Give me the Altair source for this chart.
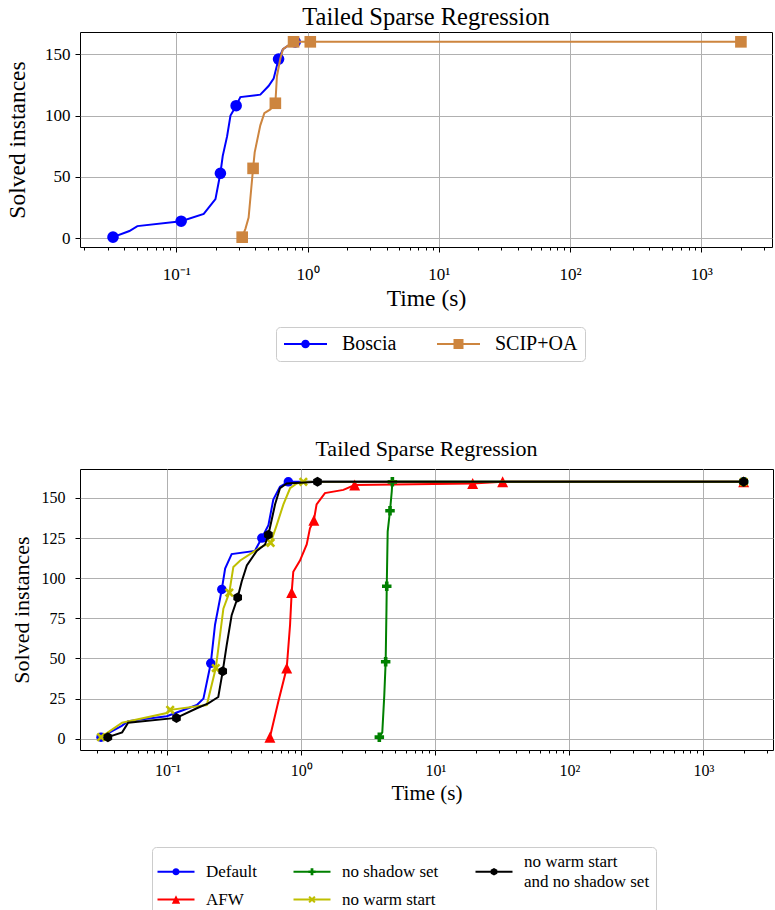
import altair as alt
import pandas as pd

FONT = "Liberation Serif"
TITLE = "Tailed Sparse Regression"
X_TITLE = "Time (s)"
Y_TITLE = "Solved instances"

# ---------------- top panel data ----------------
TOP_SERIES = ["Boscia", "SCIP+OA"]
TOP_COLORS = ["#0000ff", "#cd853f"]
TOP_MARKERS = ["circle", "square"]

BOSCIA_T = [0.033, 0.044, 0.0506, 0.109, 0.162, 0.199, 0.217, 0.226, 0.244, 0.259,
            0.286, 0.308, 0.437, 0.505, 0.552, 0.602, 0.65, 0.739, 0.806]
BOSCIA_N = [1, 6, 10, 14, 20, 32, 53, 67, 83, 100,
            108, 115, 117, 124, 130, 146, 154, 158, 160]
BOSCIA_MT = [0.033, 0.109, 0.217, 0.286, 0.602, 0.806]
BOSCIA_MN = [1, 14, 53, 108, 146, 160]

SCIP_T = [0.318, 0.337, 0.356, 0.385, 0.396, 0.437, 0.469, 0.521, 0.569, 0.585,
          0.62, 0.65, 0.783, 1.05, 2000]
SCIP_N = [1, 8, 17, 57, 70, 92, 102, 105, 110, 132, 146, 154, 160, 160, 160]
SCIP_MT = [0.318, 0.385, 0.569, 0.783, 1.05, 2000]
SCIP_MN = [1, 57, 110, 160, 160, 160]

# ---------------- bottom panel data ----------------
BOT_SERIES = ["Default", "AFW", "no shadow set", "no warm start",
              "no warm start and no shadow set"]
BOT_COLORS = ["#0000ff", "#ff0000", "#008000", "#bfbf00", "#000000"]
BOT_MARKERS = ["circle", "triangle", "plus", "x", "hexagon"]

DEF_T = [0.032, 0.0457, 0.051, 0.099, 0.166, 0.186, 0.211, 0.227, 0.255, 0.27,
         0.302, 0.45, 0.507, 0.568, 0.618, 0.693, 0.80, 2000]
DEF_N = [1, 8, 11, 14, 21, 25, 47, 71, 93, 106, 115, 117, 125, 133, 149, 157, 160, 160]
DEF_MT = [0.032, 0.211, 0.255, 0.507, 0.80, 2000]
DEF_MN = [1, 47, 93, 125, 160, 160]

AFW_T = [0.583, 0.673, 0.778, 0.824, 0.847, 0.871, 0.977, 1.097, 1.16, 1.24,
         1.30, 1.50, 2.06, 2.5, 19.0, 31.8, 2000]
AFW_N = [1, 23, 44, 71, 91, 104, 111, 121, 131, 136, 146, 153, 155, 158, 159, 160, 160]
AFW_MT = [0.583, 0.778, 0.847, 1.24, 2.5, 19.0, 31.8, 2000]
AFW_MN = [1, 44, 91, 136, 158, 159, 160, 160]

NSS_T = [3.82, 4.02, 4.16, 4.26, 4.32, 4.34, 4.41, 4.59, 4.73, 4.78, 2000]
NSS_N = [1, 4, 27, 48, 81, 95, 129, 142, 154, 160, 160]
NSS_MT = [3.82, 4.26, 4.34, 4.59, 4.78, 2000]
NSS_MN = [1, 48, 95, 142, 160, 160]

NWS_T = [0.032, 0.046, 0.099, 0.105, 0.197, 0.23, 0.24, 0.262, 0.29, 0.311,
         0.35, 0.492, 0.59, 0.655, 0.735, 0.824, 0.925, 1.035, 2000]
NWS_N = [1, 10, 16, 18, 21, 44, 56, 81, 91, 107, 111, 119, 122, 133, 146, 156, 159, 160, 160]
NWS_MT = [0.032, 0.105, 0.23, 0.29, 0.59, 1.035, 2000]
NWS_MN = [1, 18, 44, 91, 122, 160, 160]

NWSNSS_T = [0.036, 0.046, 0.051, 0.117, 0.166, 0.202, 0.24, 0.259, 0.277, 0.302,
            0.335, 0.359, 0.392, 0.465, 0.536, 0.568, 0.637, 0.693, 0.778, 1.32, 2000]
NWSNSS_N = [1, 4, 10, 13, 19, 22, 26, 42, 58, 77, 88, 98, 108, 117, 121, 127, 146, 156, 159, 160, 160]
NWSNSS_MT = [0.036, 0.117, 0.259, 0.335, 0.568, 1.32, 2000]
NWSNSS_MN = [1, 13, 42, 88, 127, 160, 160]

# ---------------- axes ----------------
TOP_X_DOMAIN = [0.0185, 3450]
BOT_X_DOMAIN = [0.0223, 3311]
Y_DOMAIN = [-7, 168]
X_MAJOR = [0.1, 1, 10, 100, 1000]
X_MAJOR_LABELS = ["10\u207b\u00b9", "10\u2070", "10\u00b9", "10\u00b2", "10\u00b3"]
TOP_Y_TICKS = [0, 50, 100, 150]
BOT_Y_TICKS = [0, 25, 50, 75, 100, 125, 150]


def minor_ticks(domain):
    return [m * 10.0 ** k for k in range(-2, 4) for m in range(2, 10)
            if domain[0] <= m * 10.0 ** k <= domain[1]]


# ---------------- marker geometry ----------------
VERTS = {
    "square": [(-1, -1), (1, -1), (1, 1), (-1, 1)],
    "triangle": [(0, -1), (1, 1), (-1, 1)],
    "plus": [(-0.38, -1), (0.38, -1), (0.38, -0.38), (1, -0.38), (1, 0.38), (0.38, 0.38),
             (0.38, 1), (-0.38, 1), (-0.38, 0.38), (-1, 0.38), (-1, -0.38), (-0.38, -0.38)],
    "x": [(-1, -0.6), (-0.6, -1), (0, -0.4), (0.6, -1), (1, -0.6), (0.4, 0),
          (1, 0.6), (0.6, 1), (0, 0.4), (-0.6, 1), (-1, 0.6), (-0.4, 0)],
    "hexagon": [(0, -1), (0.866, -0.5), (0.866, 0.5), (0, 1), (-0.866, 0.5), (-0.866, -0.5)],
}

SYM_SHIFT = -9  # legend symbol drawn starting left of its nominal anchor


def marker_path(kind, r=1.0, cx=0.0, cy=0.0):
    if kind == "circle":
        return (f"M{cx + r:.3f},{cy:.3f}A{r:.3f},{r:.3f} 0 1,1 {cx - r:.3f},{cy:.3f}"
                f"A{r:.3f},{r:.3f} 0 1,1 {cx + r:.3f},{cy:.3f}Z")
    pts = VERTS[kind]
    return "M" + "L".join(f"{cx + x * r:.3f},{cy + y * r:.3f}" for x, y in pts) + "Z"


def legend_symbol(kind, length, r, lw, dy=0.0):
    h = lw / 2
    x0, x1 = SYM_SHIFT, SYM_SHIFT + length
    return (f"M{x0},{dy - h:.2f}H{x1}V{dy + h:.2f}H{x0}Z"
            + marker_path(kind, r, (x0 + x1) / 2, dy))


def x_enc(domain, fs, lpad, tpad):
    major_test = "indexof(" + str(X_MAJOR) + ", datum.value) >= 0"
    expr = ""
    for v, lab in zip(X_MAJOR, X_MAJOR_LABELS):
        expr += f"datum.value === {v} ? '{lab}' : "
    expr += "''"
    return alt.X(
        "t:Q",
        scale=alt.Scale(type="log", domain=domain, nice=False, zero=False),
        axis=alt.Axis(
            title=X_TITLE, values=X_MAJOR + minor_ticks(domain), labelExpr=expr,
            labelOverlap=False, labelFlush=False,
            tickSize={"condition": {"test": major_test, "value": 5}, "value": 3},
            gridOpacity={"condition": {"test": major_test, "value": 1}, "value": 0},
            gridColor="#b0b0b0", gridWidth=1, domain=False,
            tickColor="black", tickWidth=1, labelColor="black", titleColor="black",
            labelFont=FONT, titleFont=FONT, labelFontSize=fs[0], titleFontSize=fs[1],
            titleFontWeight="normal", labelPadding=lpad, titlePadding=tpad,
        ),
    )


def y_enc(ticks, fs, lpad, tpad):
    return alt.Y(
        "n:Q",
        scale=alt.Scale(domain=Y_DOMAIN, nice=False, zero=False),
        axis=alt.Axis(
            title=Y_TITLE, values=ticks, grid=True, gridColor="#b0b0b0", gridWidth=1,
            domain=False, tickSize=5, tickColor="black", tickWidth=1,
            labelColor="black", titleColor="black", labelFont=FONT, titleFont=FONT,
            labelFontSize=fs[0], titleFontSize=fs[1], titleFontWeight="normal",
            labelPadding=lpad, titlePadding=tpad,
        ),
    )


def series_layers(t, n, mt, mn, color, kind, msize, xe, ye):
    line = alt.Chart(pd.DataFrame({"t": t, "n": n})).mark_line(
        color=color, strokeWidth=2).encode(x=xe, y=ye)
    shape = "circle" if kind == "circle" else marker_path(kind)
    pts = alt.Chart(pd.DataFrame({"t": mt, "n": mn})).mark_point(
        filled=True, color=color, shape=shape, size=msize, opacity=1,
        strokeWidth=0).encode(x=xe, y=ye)
    return [line, pts]


def legend_layer(field, series, colors, paths, legend):
    return alt.Chart(pd.DataFrame({field: series})).transform_filter("false").mark_point(
        filled=True, opacity=1, strokeWidth=0
    ).encode(
        color=alt.Color(f"{field}:N", scale=alt.Scale(domain=series, range=colors), legend=legend),
        shape=alt.Shape(f"{field}:N", scale=alt.Scale(domain=series, range=paths), legend=legend),
    )


# ---------------- top chart ----------------
txe = x_enc(TOP_X_DOMAIN, (17, 23.5), 14, 4)
tye = y_enc(TOP_Y_TICKS, (17, 23.5), 5, 15)
top_layers = []
for (t, n, mt, mn), c, k in zip(
        [(BOSCIA_T, BOSCIA_N, BOSCIA_MT, BOSCIA_MN), (SCIP_T, SCIP_N, SCIP_MT, SCIP_MN)],
        TOP_COLORS, TOP_MARKERS):
    top_layers += series_layers(t, n, mt, mn, c, k, 135, txe, tye)

top_legend = alt.Legend(
    title=None, orient="none", legendX=196, legendY=295, direction="horizontal",
    columns=2, symbolSize=4, symbolStrokeWidth=0, labelFont=FONT, labelFontSize=20,
    labelColor="black", labelOffset=39, columnPadding=39, padding=7,
    strokeColor="#cccccc", cornerRadius=4, fillColor="white", labelLimit=400,
)
top_paths = [legend_symbol(k, 43, r, 2) for k, r in zip(TOP_MARKERS, [4.3, 5.0])]
top_layers.append(legend_layer("series_top", TOP_SERIES, TOP_COLORS, top_paths, top_legend))

top = alt.layer(*top_layers).properties(
    width=692, height=215,
    title=alt.TitleParams(TITLE, font=FONT, fontSize=24.5, fontWeight="normal",
                          color="black", frame="group", anchor="middle", offset=2),
)

# ---------------- bottom chart ----------------
bxe = x_enc(BOT_X_DOMAIN, (16, 21), 7, 4)
bye = y_enc(BOT_Y_TICKS, (16, 22), 10, 8)
bot_layers = []
bot_data = [(DEF_T, DEF_N, DEF_MT, DEF_MN), (AFW_T, AFW_N, AFW_MT, AFW_MN),
            (NSS_T, NSS_N, NSS_MT, NSS_MN), (NWS_T, NWS_N, NWS_MT, NWS_MN),
            (NWSNSS_T, NWSNSS_N, NWSNSS_MT, NWSNSS_MN)]
bot_sizes = [90, 120, 90, 85, 100]
for (t, n, mt, mn), c, k, s in zip(bot_data, BOT_COLORS, BOT_MARKERS, bot_sizes):
    bot_layers += series_layers(t, n, mt, mn, c, k, s, bxe, bye)

# legend entries ordered row by row (3 columns)
LEG_ORDER = [0, 2, 4, 1, 3]
LEG_RADII = [3.6, 3.6, 3.8, 4.2, 3.6]
LEG_DY = [0, 0, 10, 0, 0]   # two-line label: centre symbol between the lines
leg_series = [BOT_SERIES[i] for i in LEG_ORDER]
leg_colors = [BOT_COLORS[i] for i in LEG_ORDER]
leg_paths = [legend_symbol(BOT_MARKERS[i], 37, r, 2, dy)
             for i, r, dy in zip(LEG_ORDER, LEG_RADII, LEG_DY)]
bot_legend = alt.Legend(
    title=None, orient="none", legendX=72, legendY=378, direction="horizontal",
    columns=3, symbolSize=4, symbolStrokeWidth=0, labelFont=FONT, labelFontSize=17,
    labelColor="black", labelOffset=31, columnPadding=36, rowPadding=0, padding=6,
    strokeColor="#cccccc", cornerRadius=4, fillColor="white", labelLimit=400,
    labelExpr="datum.label == 'no warm start and no shadow set' ? "
              "['no warm start', 'and no shadow set'] : datum.label",
)
bot_layers.append(legend_layer("series_bot", leg_series, leg_colors, leg_paths, bot_legend))

bottom = alt.layer(*bot_layers).properties(
    width=693, height=281,
    title=alt.TitleParams(TITLE, font=FONT, fontSize=22, fontWeight="normal",
                          color="black", frame="group", anchor="middle", offset=8),
)

chart = alt.vconcat(top, bottom, spacing=75).resolve_scale(
    color="independent", shape="independent"
).configure(
    style={"guide-label": {"lineHeight": 20}}
).configure_view(
    stroke="black", strokeWidth=1
).properties(padding={"left": 5, "top": 4, "right": 0, "bottom": 0})

chart.save("out.html", embed_options={"renderer": "svg", "actions": False})
